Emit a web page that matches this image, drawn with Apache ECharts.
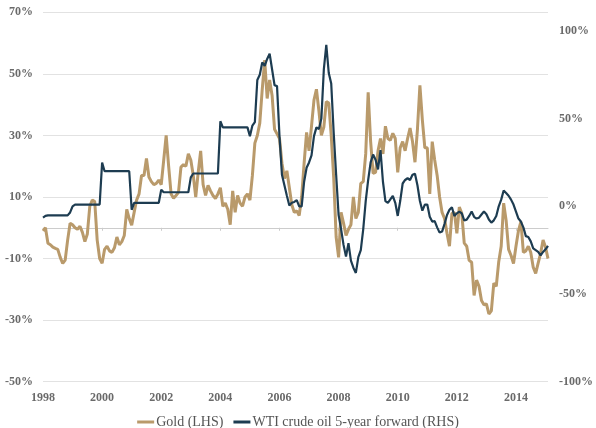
<!DOCTYPE html>
<html>
<head>
<meta charset="utf-8">
<script src="https://cdn.jsdelivr.net/npm/echarts@6/dist/echarts.min.js"></script>
<style>
  html, body { margin: 0; padding: 0; background: #fff; }
  #chart { width: 596px; height: 428px; }
</style>
</head>
<body>
<div id="chart"></div>
<script>
// monthly, Jan 1998 .. Feb 2015
const months = []
for (let y = 1998; y <= 2015; y++) {
  for (let m = 1; m <= 12; m++) {
    if (y === 2015 && m > 2) break
    months.push(y + '-' + (m < 10 ? '0' + m : m))
  }
}

// gold, y/y change, % (left axis)
const gold = [
  -1, 0, -5, -5.5, -6.3, -6.7, -7, -9.6, -11.6, -10.5, -4, 1.5,
  1, 0, -0.5, 0.5, -1.5, -4.5, -2, 7, 9, 8.5, -4, -10,
  -11.5, -7, -6, -7.5, -8, -6.5, -3, -5.5, -4.5, -2.5, 6, 3,
  0.8, 5, 9, 11, 17, 17, 22.5, 16.5, 15, 14, 14.4, 15.5,
  14, 22, 30, 20, 11, 9.6, 10.5, 11.5, 19.7, 20.5, 20, 24,
  22, 17, 10, 18, 25, 14, 10.5, 13.8, 12, 10.5, 9.5, 11,
  13, 7, 8, 6, 1, 12, 5, 10.5, 8, 7, 10, 11,
  9, 17, 27.5, 30, 34, 45, 54.5, 42, 48, 43, 32, 30.5,
  29, 21, 16, 18.5, 13, 7.5, 5, 5.5, 4, 10, 21, 31,
  25, 33, 41.5, 45, 38, 30, 32.7, 41, 40.5, 30, 16.4, -3,
  -9.6, 5, 1.5, -2.5, -0.5, 1, 10, 3, 5, 14.4, 15, 24,
  44, 28, 17.7, 18, 25, 29, 24, 33, 29, 28.4, 30.7, 29,
  18, 26, 28, 25, 29, 32.4, 28, 21.3, 32, 46.3, 35, 26,
  26, 11, 28, 22, 17, 10, 5, 3, -1.8, -6, 4.7, 5,
  -1.8, 6.7, 4.7, -5, -6, -10.6, -11.2, -22, -17, -19, -23.6, -25,
  -24.7, -28, -27, -18, -19, -11, -6, 8, 2.4, -7, -9, -11.6,
  -6, -1, 2, -8, -7.5, -6, -8, -12.8, -14.8, -11.5, -8.3, -4,
  -6.3, -10
]

// WTI crude oil 5-year forward, y/y change, % (right axis)
const wti = [
  -6.5, -5.5, -5.2, -5.2, -5.2, -5.2, -5.2, -5.2, -5.2, -5.2, -5.2, -3.5,
  0, 1, 1, 1, 1, 1, 1, 1, 1, 1, 1, 1,
  25, 20, 20, 20, 20, 20, 20, 20, 20, 20, 20, 20,
  -2, 2, 2, 2, 2, 2, 2, 2, 2, 2, 2, 2,
  9.5, 8, 8, 8, 8, 8, 8, 8, 8, 8, 8, 8,
  16.5, 18.7, 18.7, 18.7, 18.7, 18.7, 18.7, 18.7, 18.7, 18.7, 18.7, 18.7,
  48.5, 45, 45, 45, 45, 45, 45, 45, 45, 45, 45, 45,
  40, 46, 48, 72, 75, 82, 80, 84, 87, 78, 69, 68.5,
  40, 18, 12, 6, 0.5, 2, 2.5, 3.5, 0, 0, 14, 22,
  25, 29, 40, 45, 44, 50, 78, 92, 76, 70, 42, 18,
  -5, -13, -22, -28.7, -21, -31, -35, -38, -29, -25, -13, 3,
  15, 25, 29.5, 26.5, 21, 32, 14, 3, 2, 4, 6, 2,
  -5.5, 3, 13, 15, 16, 15, 18, 18.5, 12, 3, -2.5, 1,
  1, -6, -8.7, -8.5, -12, -15, -14.4, -10, -5, -2, -0.5, -5.5,
  -4, -3, -4, -8, -7.6, -5.5, -3, -6, -7, -6.5, -4.7, -3,
  -4.5, -7.5, -9.3, -8, -5.5, 0, 3.8, 9, 7.6, 6, 3.8, 1,
  -3, -7, -8.7, -12, -17, -17.5, -20, -24, -25, -26, -28, -26,
  -24.5, -22.5
]

const goldName = 'Gold (LHS)'
const wtiName = 'WTI crude oil 5-year forward (RHS)'

const chart = echarts.init(document.getElementById('chart'))

const font = 'Liberation Serif'
const isYearTick = (i) => i % 24 === 0
const labelStyle = { fontFamily: font, fontSize: 12, fontWeight: 'bold', color: '#6a6a6a' }

chart.setOption({
  animation: false,
  textStyle: { fontFamily: font },
  grid: { left: 43, right: 39, top: 12.3, bottom: 46.3, containLabel: false },
  legend: {
    top: 410,
    left: 'center',
    icon: 'rect',
    itemWidth: 17,
    itemHeight: 3,
    itemGap: 10,
    textStyle: { fontFamily: font, fontSize: 14, color: '#555', padding: [0, 0, 0, -3] },
    data: [goldName, wtiName]
  },
  xAxis: [
    {
      // year labels along the bottom
      type: 'category',
      data: months,
      boundaryGap: false,
      position: 'bottom',
      axisLine: { show: false, onZero: false },
      axisTick: { show: false },
      axisLabel: Object.assign({
        interval: (i) => isYearTick(i),
        formatter: (v) => v.slice(0, 4),
        margin: 10
      }, labelStyle),
      splitLine: { show: false }
    },
    {
      // axis line sitting on 0% of the left axis
      type: 'category',
      data: months,
      boundaryGap: false,
      position: 'top',
      axisLine: { show: true, onZero: true, onZeroAxisIndex: 0, lineStyle: { color: '#cccccc', width: 1 } },
      axisTick: { show: true, inside: true, interval: (i) => isYearTick(i), length: 3, lineStyle: { color: '#cccccc' } },
      axisLabel: { show: false },
      splitLine: { show: false }
    }
  ],
  yAxis: [
    {
      type: 'value',
      min: -50,
      max: 70,
      interval: 20,
      axisLine: { show: false },
      axisTick: { show: false },
      axisLabel: Object.assign({ formatter: '{value}%', margin: 10 }, labelStyle),
      splitLine: { lineStyle: { color: '#e2e2e2', width: 1 } }
    },
    {
      type: 'value',
      min: -100,
      max: 110.6,
      interval: 50,
      position: 'right',
      axisLine: { show: false },
      axisTick: { show: false },
      axisLabel: Object.assign({ formatter: '{value}%', margin: 11, showMaxLabel: false }, labelStyle),
      splitLine: { show: false }
    }
  ],
  series: [
    {
      name: goldName,
      type: 'line',
      xAxisIndex: 0,
      yAxisIndex: 0,
      data: gold,
      showSymbol: false,
      color: '#b99a6b',
      lineStyle: { width: 3, color: '#b99a6b' },
      z: 2
    },
    {
      name: wtiName,
      type: 'line',
      xAxisIndex: 0,
      yAxisIndex: 1,
      data: wti,
      showSymbol: false,
      color: '#1d3c51',
      lineStyle: { width: 2.2, color: '#1d3c51' },
      z: 3
    }
  ]
})
</script>
</body>
</html>
